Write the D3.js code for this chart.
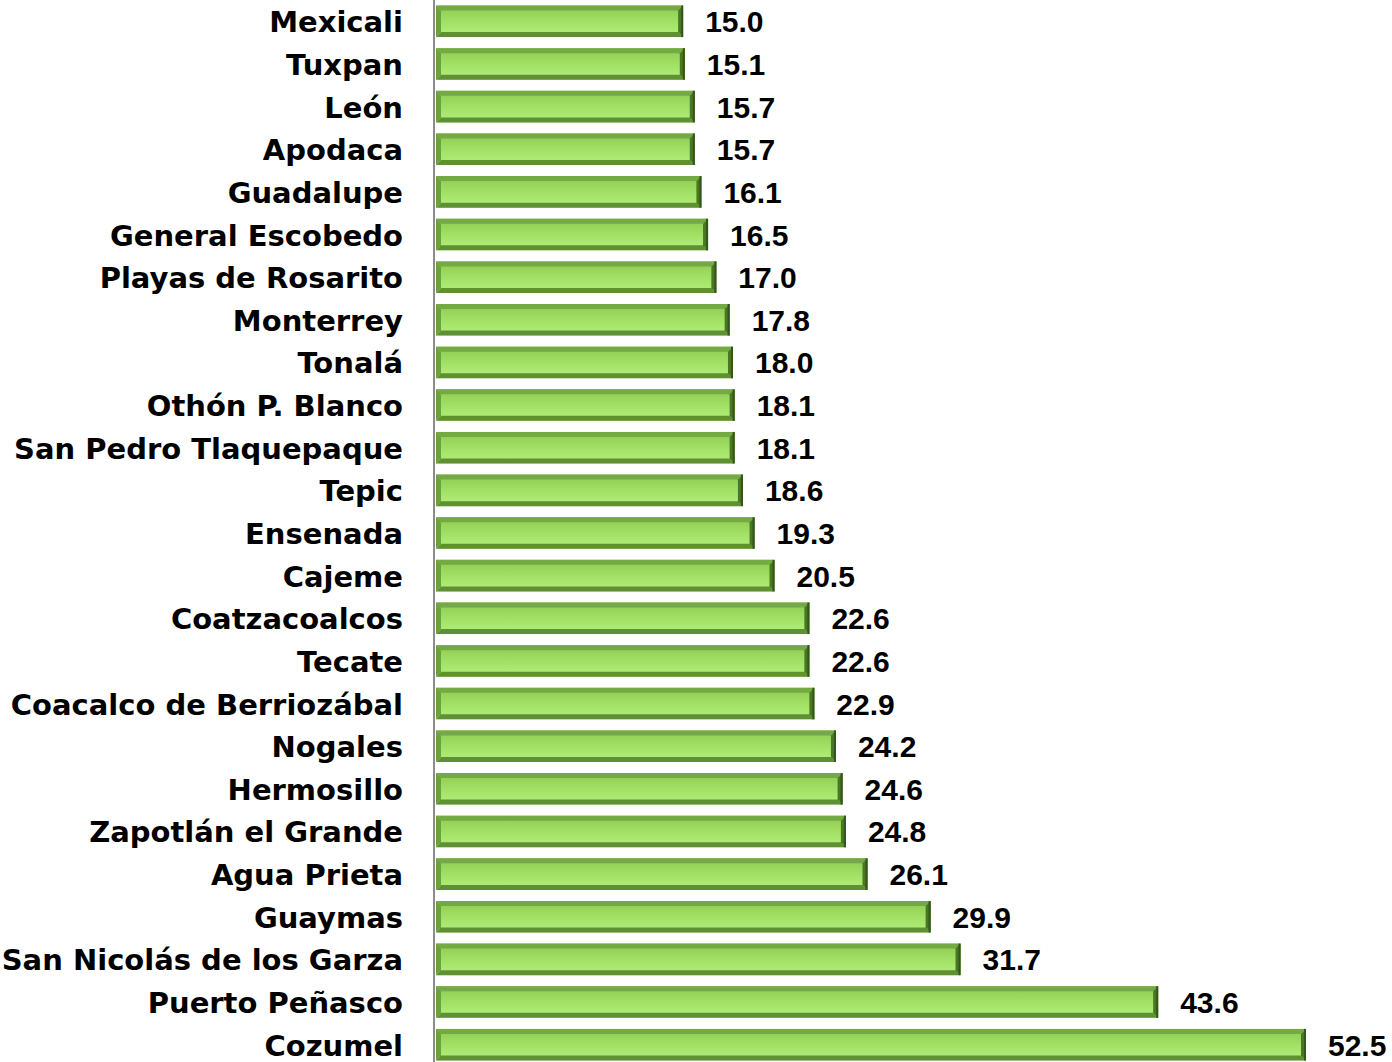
<!DOCTYPE html>
<meta charset="utf-8">
<script src="https://d3js.org/d3.v7.min.js"></script>
<style>
  body { margin: 0; background: #fff; }
</style>
<div id="chart"></div>
<script>
// categories (top to bottom) and their values
const cities = ["Mexicali", "Tuxpan", "León", "Apodaca", "Guadalupe", "General Escobedo",
  "Playas de Rosarito", "Monterrey", "Tonalá", "Othón P. Blanco", "San Pedro Tlaquepaque",
  "Tepic", "Ensenada", "Cajeme", "Coatzacoalcos", "Tecate", "Coacalco de Berriozábal",
  "Nogales", "Hermosillo", "Zapotlán el Grande", "Agua Prieta", "Guaymas",
  "San Nicolás de los Garza", "Puerto Peñasco", "Cozumel"];
const values = [15.0, 15.1, 15.7, 15.7, 16.1, 16.5, 17.0, 17.8, 18.0, 18.1, 18.1,
  18.6, 19.3, 20.5, 22.6, 22.6, 22.9, 24.2, 24.6, 24.8, 26.1, 29.9, 31.7, 43.6, 52.5];

const W = 1392, H = 1062;
const axisX = 434;
const catFont = "'DejaVu Sans', Verdana, sans-serif";
const valFont = "'Liberation Sans', Arial, sans-serif";

const svg = d3.select("#chart").append("svg")
  .attr("width", W)
  .attr("height", H);

const x = d3.scaleLinear().domain([0, 52.5]).range([axisX, 1306]);
const y = d3.scaleBand().domain(cities).range([0, 1066]).paddingInner(0.26).paddingOuter(0.13);

// gradient for bar face
const defs = svg.append("defs");
const grad = defs.append("linearGradient").attr("id", "face")
  .attr("x1", 0).attr("y1", 0).attr("x2", 0).attr("y2", 1);
grad.append("stop").attr("offset", "0%").attr("stop-color", "#8ccb50");
grad.append("stop").attr("offset", "45%").attr("stop-color", "#9fde62");
grad.append("stop").attr("offset", "100%").attr("stop-color", "#b4f07e");

const bev = 5;
const bars = svg.selectAll("g.bar")
  .data(cities.map((c, i) => ({city: c, value: values[i]})))
  .join("g").attr("class", "bar");

bars.each(function(d) {
  const g = d3.select(this);
  const x0 = x(0) + 2, x1 = x(d.value);
  const y0 = y(d.city), y1 = y0 + y.bandwidth();
  const pts = arr => arr.map(p => p.join(",")).join(" ");
  // inner face
  g.append("rect").attr("x", x0).attr("y", y0).attr("width", x1 - x0).attr("height", y1 - y0)
    .attr("fill", "url(#face)");
  // top bevel
  g.append("polygon").attr("points", pts([[x0, y0], [x1, y0], [x1 - bev, y0 + bev], [x0 + bev, y0 + bev]]))
    .attr("fill", "#74a944");
  // bottom bevel
  g.append("polygon").attr("points", pts([[x0, y1], [x1, y1], [x1 - bev, y1 - bev], [x0 + bev, y1 - bev]]))
    .attr("fill", "#5f9034");
  // left bevel
  g.append("polygon").attr("points", pts([[x0, y0], [x0 + bev, y0 + bev], [x0 + bev, y1 - bev], [x0, y1]]))
    .attr("fill", "#6ba23e");
  // right bevel
  g.append("polygon").attr("points", pts([[x1, y0], [x1 - bev, y0 + bev], [x1 - bev, y1 - bev], [x1, y1]]))
    .attr("fill", "#4a7626");
  g.append("rect").attr("x", x1 - 2).attr("y", y0).attr("width", 2).attr("height", y1 - y0)
    .attr("fill", "#33561a");
});

// value labels
svg.selectAll("text.val")
  .data(values)
  .join("text").attr("class", "val")
  .attr("x", (d) => x(d) + 22)
  .attr("y", (d, i) => y(cities[i]) + y.bandwidth() / 2 + 11)
  .attr("font-family", valFont)
  .attr("font-weight", "bold")
  .attr("font-size", 30)
  .attr("fill", "#000")
  .text(d => d.toFixed(1));

// category labels
svg.selectAll("text.cat")
  .data(cities)
  .join("text").attr("class", "cat")
  .attr("x", 403)
  .attr("y", d => y(d) + y.bandwidth() / 2 + 11)
  .attr("text-anchor", "end")
  .attr("font-family", catFont)
  .attr("font-weight", "bold")
  .attr("font-size", 29)
  .attr("fill", "#000")
  .text(d => d);

// vertical axis line
svg.append("line")
  .attr("x1", axisX).attr("x2", axisX)
  .attr("y1", 0).attr("y2", H)
  .attr("stroke", "#8c8c8c").attr("stroke-width", 2);
</script>
